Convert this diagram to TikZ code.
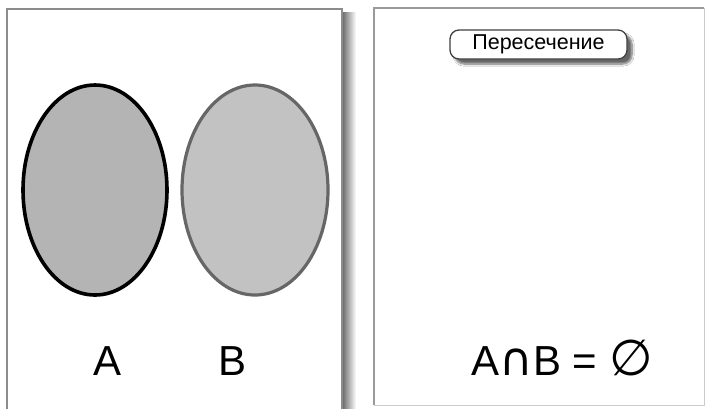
\documentclass[tikz,border=0pt]{standalone}
\usepackage{fontspec}
\setmainfont{Liberation Sans}
\newfontfamily\dejavu{DejaVu Sans}
\usetikzlibrary{shapes.geometric,shadows.blur}
\definecolor{fillA}{HTML}{B4B4B4}
\definecolor{fillB}{HTML}{C2C2C2}
\definecolor{strokeB}{HTML}{666666}
\definecolor{frameL}{HTML}{8C8C8C}
\definecolor{frameR}{HTML}{9A9A9A}
\tikzset{
  setbase/.style={ellipse, minimum width=144pt, minimum height=210pt, inner sep=0pt, outer sep=0pt},
  setA/.style={setbase, draw=black, line width=3.6pt, fill=fillA},
  setB/.style={setbase, draw=strokeB, line width=3.2pt, fill=fillB},
  biglabel/.style={font=\fontsize{42}{42}\selectfont, anchor=base, inner sep=0pt},
  button/.style={draw=black!75, line width=1.3pt, fill=white, rounded corners=9pt,
    minimum width=177pt, minimum height=29pt, inner sep=0pt,
    font=\fontsize{21.5}{21.5}\selectfont,
    blur shadow={shadow xshift=5pt, shadow yshift=-5pt, shadow blur steps=8, shadow opacity=60}},
}
\begin{document}
\begin{tikzpicture}[x=1pt,y=-1pt]
\useasboundingbox (0,0) rectangle (708,408);
\fill[white] (0,0) rectangle (708,408);
% left panel shadow
\shade[left color=black!60, right color=white] (342,12) rectangle (356,408);
% left panel
\draw[frameL, line width=1.5pt, fill=white] (7,409) -- (7,9) -- (342,9) -- (342,409);
% right panel
\draw[black!20, line width=0.8pt, fill=white] (374,8) rectangle (704,405);
\draw[frameR, line width=1.5pt] (374,405) -- (374,8) -- (704,8);
% ellipses
\node[setA] (A) at (95,190) {};
\node[setB, minimum width=146pt] (B) at (255,190) {};
\node[biglabel] (la) at (108,375) {A};
\node[biglabel] (lb) at (233,375) {B};
% button
\node[button] (btn) at (538.5,44.5) {Пересечение};
% equation
\node[biglabel] (eq) at (562,375) {A{\dejavu\fontsize{46}{46}\selectfont ∩}B = {\dejavu\fontsize{50}{50}\selectfont ∅}};
\end{tikzpicture}
\end{document}
